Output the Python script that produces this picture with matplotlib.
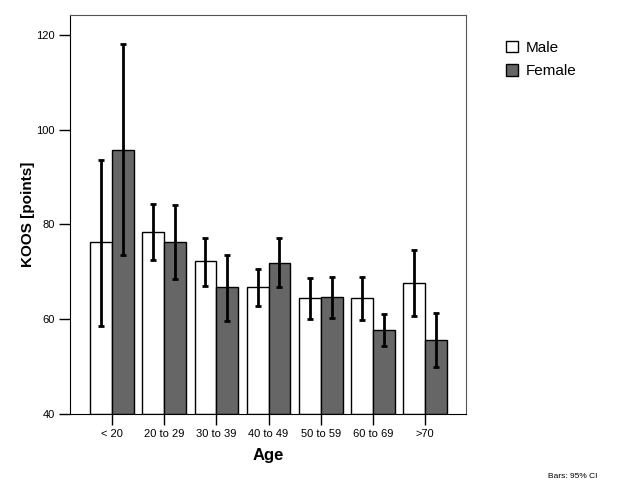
import numpy as np
import matplotlib
matplotlib.use("Agg")
import matplotlib.pyplot as plt

# --- Daten ---
age_groups = ["< 20", "20 to 29", "30 to 39", "40 to 49", "50 to 59", "60 to 69", ">70"]
male_mean = [76.2, 78.5, 72.2, 66.7, 64.4, 64.4, 67.7]
male_lo = [58.6, 72.4, 67.1, 62.8, 60.1, 59.8, 60.7]
male_hi = [93.6, 84.4, 77.1, 70.7, 68.8, 69.0, 74.7]
female_mean = [95.8, 76.4, 66.7, 71.9, 64.6, 57.7, 55.6]
female_lo = [73.6, 68.5, 59.7, 66.7, 60.2, 54.4, 50.0]
female_hi = [118.0, 84.2, 73.6, 77.2, 69.0, 61.0, 61.3]

plt.rcParams["font.family"] = ["Liberation Sans", "DejaVu Sans"]

fig = plt.figure(figsize=(6.25, 5), dpi=100)
ax = fig.add_axes([70 / 625, 86 / 500, 396 / 625, 399 / 500])

x = np.arange(len(age_groups))
w = 0.42
male_mean = np.array(male_mean)
female_mean = np.array(female_mean)
m_err = [male_mean - np.array(male_lo), np.array(male_hi) - male_mean]
f_err = [female_mean - np.array(female_lo), np.array(female_hi) - female_mean]

ax.bar(x - w / 2, male_mean - 40, w, bottom=40, color="white", edgecolor="black",
       linewidth=1.0, label="Male", zorder=2)
ax.bar(x + w / 2, female_mean - 40, w, bottom=40, color="#666666", edgecolor="black",
       linewidth=1.0, label="Female", zorder=2)
ax.errorbar(x - w / 2, male_mean, yerr=m_err, fmt="none", ecolor="black",
            elinewidth=2, capsize=2.5, capthick=2, zorder=3)
ax.errorbar(x + w / 2, female_mean, yerr=f_err, fmt="none", ecolor="black",
            elinewidth=2, capsize=2.5, capthick=2, zorder=3)

ax.set_xlim(-0.81, 6.79)
ax.set_ylim(40, 124.2)
ax.set_yticks([40, 60, 80, 100, 120])
ax.set_xticks(x)
ax.set_xticklabels(age_groups)
ax.tick_params(axis="both", direction="out", length=8, width=1, labelsize=8, pad=3)
for s in ax.spines.values():
    s.set_color("#555555")
ax.spines["left"].set_color("black")
ax.spines["bottom"].set_color("black")

ax.set_xlabel("Age", fontsize=12, fontweight="bold", labelpad=6)
ax.set_ylabel("KOOS [points]", fontsize=11, fontweight="bold", labelpad=1)

fig.legend(loc="upper left", bbox_to_anchor=(498 / 625, 1 - 33 / 500), frameon=False,
           fontsize=11, handlelength=0.8, handleheight=0.8, handletextpad=0.5,
           labelspacing=0.6, borderpad=0)
fig.text(548 / 625, 1 - 476 / 500, "Bars: 95% CI", fontsize=6, va="center")

fig.savefig("out.png", dpi=100)
